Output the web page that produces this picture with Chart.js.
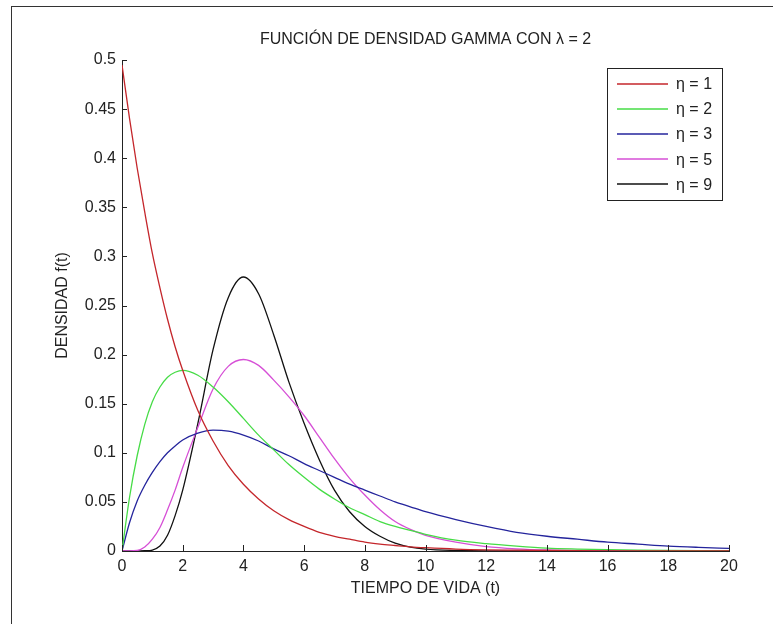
<!DOCTYPE html>
<html>
<head>
<meta charset="utf-8">
<script src="https://cdn.jsdelivr.net/npm/chart.js@4"></script>
<style>
  body { margin: 0; background: #fff; }
  #wrap { position: relative; width: 773px; height: 624px; }
  #marco { position: absolute; left: 11px; top: 6px; right: 0; bottom: 0; border-top: 1px solid #333; border-left: 1px solid #333; pointer-events: none; }
</style>
</head>
<body>
<div id="wrap">
  <canvas id="gammaChart" width="773" height="624"></canvas>
  <div id="marco"></div>
</div>
<script>
// valores
const tiempo = [0, 0.25, 0.5, 0.75, 1, 1.25, 1.5, 1.75, 2, 2.5, 3, 3.5, 4, 4.5, 5, 5.5, 6, 6.5, 7, 7.5, 8, 8.5, 9, 9.5, 10, 11, 12, 13, 14, 15, 16, 17, 18, 19, 20];
const eta1 = [0.495, 0.44, 0.39, 0.345, 0.303, 0.268, 0.236, 0.208, 0.184, 0.143, 0.112, 0.087, 0.068, 0.053, 0.041, 0.032, 0.025, 0.019, 0.015, 0.012, 0.009, 0.007, 0.0056, 0.0043, 0.0034, 0.002, 0.0012, 0.0008, 0.0005, 0.0003, 0.0002, 0.0001, 0.0001, 0, 0];
const eta2 = [0, 0.055, 0.097, 0.129, 0.152, 0.167, 0.177, 0.182, 0.184, 0.179, 0.167, 0.152, 0.135, 0.118, 0.103, 0.088, 0.075, 0.063, 0.053, 0.044, 0.037, 0.03, 0.025, 0.021, 0.017, 0.011, 0.0075, 0.005, 0.003, 0.002, 0.0013, 0.0008, 0.0005, 0.0003, 0.0002];
const eta3 = [0, 0.029, 0.051, 0.067, 0.08, 0.091, 0.1, 0.107, 0.113, 0.12, 0.123, 0.122, 0.118, 0.112, 0.104, 0.097, 0.089, 0.082, 0.075, 0.068, 0.062, 0.056, 0.05, 0.045, 0.04, 0.032, 0.025, 0.019, 0.015, 0.012, 0.009, 0.007, 0.005, 0.0037, 0.0027];
const eta5 = [0, 0, 0.0005, 0.004, 0.012, 0.024, 0.042, 0.062, 0.085, 0.126, 0.165, 0.188, 0.195, 0.189, 0.174, 0.157, 0.138, 0.116, 0.094, 0.074, 0.057, 0.042, 0.03, 0.022, 0.016, 0.009, 0.0045, 0.0022, 0.001, 0.0005, 0.0002, 0.0001, 0, 0, 0];
const eta9 = [0, 0, 0, 0.0003, 0.001, 0.005, 0.016, 0.036, 0.062, 0.13, 0.205, 0.258, 0.279, 0.262, 0.22, 0.172, 0.13, 0.093, 0.062, 0.04, 0.025, 0.015, 0.008, 0.004, 0.002, 0.0005, 0, 0, 0, 0, 0, 0, 0, 0, 0];
const etiquetas = ['η = 1', 'η = 2', 'η = 3', 'η = 5', 'η = 9'];
const colores = ['#c4262b', '#46dc46', '#24249c', '#d64fd6', '#111111'];
const xTickLabels = ['0', '2', '4', '6', '8', '10', '12', '14', '16', '18', '20'];
const yTickLabels = ['0', '0.05', '0.1', '0.15', '0.2', '0.25', '0.3', '0.35', '0.4', '0.45', '0.5'];
const titulo = 'FUNCIÓN DE DENSIDAD GAMMA CON λ = 2';

const fuente = { family: "'Liberation Sans', Arial, sans-serif", size: 16 };

function puntos(serie) {
    return tiempo.map((t, i) => ({ x: t, y: serie[i] }));
}

// ticks hacia dentro, titulo y leyenda dentro del area, como en matlab
const ejesMatlab = {
    id: 'ejesMatlab',
    afterDatasetsDraw(chart) {
        const { ctx, chartArea, scales } = chart;
        ctx.save();
        ctx.strokeStyle = '#222';
        ctx.lineWidth = 1;
        ctx.beginPath();
        scales.x.ticks.forEach((t, i) => {
            const px = Math.round(scales.x.getPixelForTick(i)) + 0.5;
            ctx.moveTo(px, chartArea.bottom);
            ctx.lineTo(px, chartArea.bottom - 6);
        });
        scales.y.ticks.forEach((t, i) => {
            const py = Math.round(scales.y.getPixelForTick(i)) + 0.5;
            ctx.moveTo(chartArea.left, py);
            ctx.lineTo(chartArea.left + 5, py);
        });
        ctx.stroke();

        ctx.font = "16px 'Liberation Sans', Arial, sans-serif";
        ctx.fillStyle = '#222';
        ctx.textAlign = 'center';
        ctx.textBaseline = 'middle';
        ctx.fillText(titulo, (chartArea.left + chartArea.right) / 2, chartArea.top - 20);

        // leyenda
        const bx = chartArea.right - 122, by = chartArea.top + 8, bw = 115, bh = 132;
        ctx.fillStyle = '#fff';
        ctx.fillRect(bx, by, bw, bh);
        ctx.strokeStyle = '#222';
        ctx.strokeRect(bx + 0.5, by + 0.5, bw, bh);
        ctx.textAlign = 'left';
        chart.data.datasets.forEach((ds, i) => {
            const y = by + 15.5 + i * 25.2;
            ctx.strokeStyle = ds.borderColor;
            ctx.lineWidth = 1.5;
            ctx.beginPath();
            ctx.moveTo(bx + 10, Math.round(y));
            ctx.lineTo(bx + 61, Math.round(y));
            ctx.stroke();
            ctx.fillStyle = '#222';
            ctx.fillText(ds.label, bx + 69, y + 1);
        });
        ctx.restore();
    }
};

const ctx = document.getElementById('gammaChart').getContext('2d');
const chart = new Chart(ctx, {
    type: 'line',
    data: {
        datasets: [eta1, eta2, eta3, eta5, eta9].map((serie, i) => ({
            label: etiquetas[i],
            data: puntos(serie),
            borderColor: colores[i],
            borderWidth: 1.3,
            pointRadius: 0,
            fill: false,
            cubicInterpolationMode: 'monotone'
        }))
    },
    options: {
        responsive: false,
        animation: false,
        layout: { padding: { top: 60, right: 44, bottom: 0, left: 0 } },
        plugins: {
            legend: { display: false },
            tooltip: { enabled: false },
            title: { display: false }
        },
        scales: {
            x: {
                type: 'linear',
                min: 0,
                max: 20,
                afterFit(scale) { scale.height = 73; },
                ticks: {
                    stepSize: 2,
                    padding: 6,
                    color: '#222',
                    font: fuente,
                    maxRotation: 0,
                    callback: (v, i) => xTickLabels[i]
                },
                grid: { display: false, drawTicks: false },
                border: { display: true, color: '#222', width: 1 },
                title: {
                    display: true,
                    text: 'TIEMPO DE VIDA (t)',
                    color: '#222',
                    font: fuente,
                    padding: { top: 0, bottom: 26 }
                }
            },
            y: {
                min: 0,
                max: 0.5,
                afterFit(scale) { scale.width = 122; },
                ticks: {
                    stepSize: 0.05,
                    padding: 6,
                    color: '#222',
                    font: fuente,
                    callback: (v, i) => yTickLabels[i]
                },
                grid: { display: false, drawTicks: false },
                border: { display: true, color: '#222', width: 1 },
                title: {
                    display: true,
                    text: 'DENSIDAD f(t)',
                    color: '#222',
                    font: fuente,
                    padding: { top: 53, bottom: 0 }
                }
            }
        }
    },
    plugins: [ejesMatlab]
});
</script>
</body>
</html>
